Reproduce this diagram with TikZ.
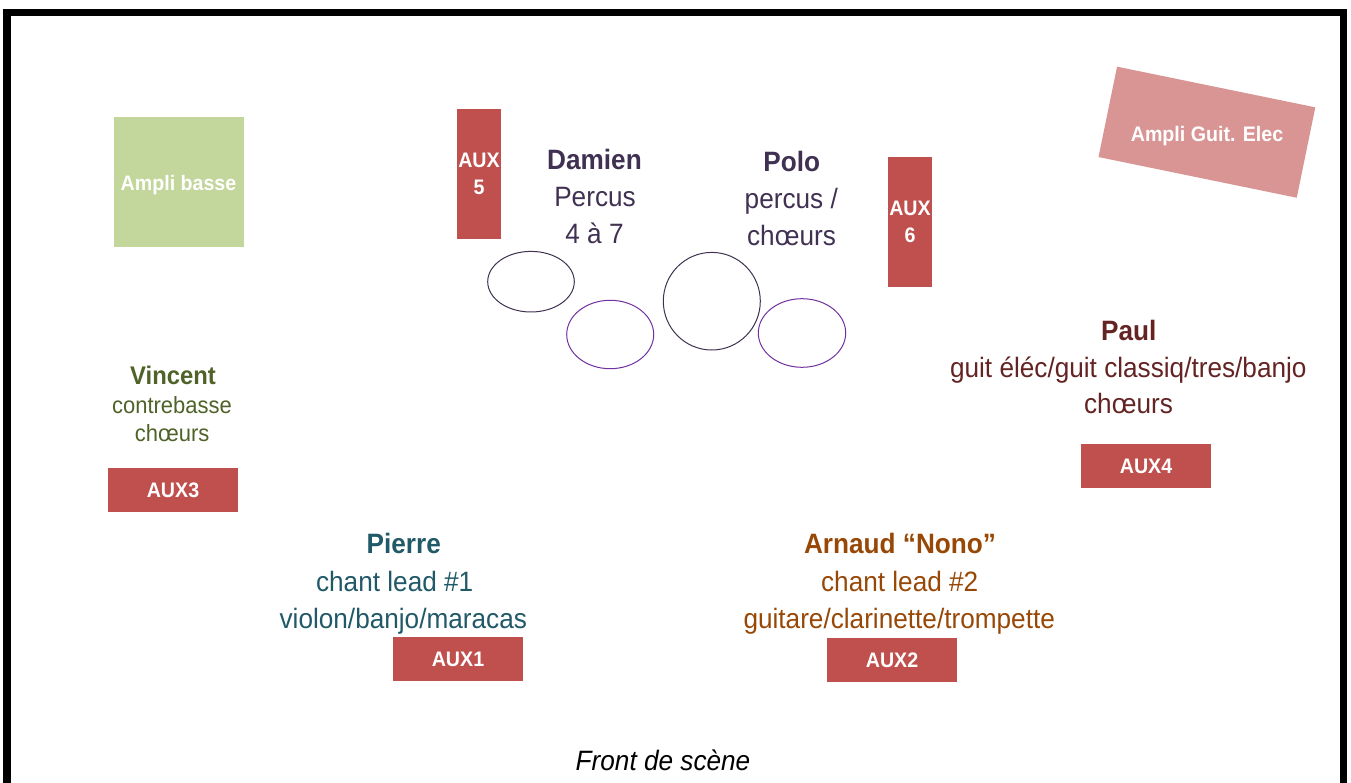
\documentclass[tikz,border=0pt]{standalone}
\usepackage{fontspec}
\setmainfont{Liberation Sans}[FakeStretch=0.935]
\definecolor{auxred}{HTML}{C0504D}
\definecolor{amplibasse}{HTML}{C3D69B}
\definecolor{ampliguit}{HTML}{D99594}
\definecolor{percdark}{HTML}{403152}
\definecolor{drumdark}{HTML}{3F3151}
\definecolor{drumpurple}{HTML}{7030A0}
\definecolor{vincentc}{HTML}{4F6228}
\definecolor{paulc}{HTML}{632423}
\definecolor{pierrec}{HTML}{215968}
\definecolor{arnaudc}{HTML}{984806}
\begin{document}
\begin{tikzpicture}[x=1pt,y=-1pt,
  auxbox/.style={fill=auxred, text=white, inner sep=0pt, align=center,
    font=\fontsize{21}{27}\selectfont\bfseries},
  ampbox/.style={inner sep=0pt},
  boxtext/.style={text=white, inner sep=0pt, anchor=base,
    font=\fontsize{21}{25}\selectfont\bfseries},
  namebig/.style={inner sep=0pt, anchor=base, font=\fontsize{28}{34}\selectfont\bfseries},
  linebig/.style={inner sep=0pt, anchor=base, font=\fontsize{28}{34}\selectfont},
  namesmall/.style={inner sep=0pt, anchor=base, font=\fontsize{25.5}{29}\selectfont\bfseries},
  linesmall/.style={inner sep=0pt, anchor=base, font=\fontsize{23.5}{29}\selectfont},
  drumA/.style={draw=drumdark, line width=1pt},
  drumB/.style={draw=drumpurple, line width=1pt}]
\useasboundingbox (0,0) rectangle (1351,783);
\clip (0,0) rectangle (1351,783);
% frame
\draw[line width=7.5pt] (7.2,12.5) rectangle (1343.5,840);
% amps
\node[ampbox, fill=amplibasse, minimum width=130pt, minimum height=130pt] (abox) at (179,182) {};
\node[boxtext] (atext) at (178.5,191) {Ampli basse};
\node[ampbox, fill=ampliguit, minimum width=202.4pt, minimum height=92.3pt, rotate=-11.6] (gbox) at (1206.9,132.2) {};
\node[boxtext] (gtext) at (1207,141.7) {Ampli Guit. Elec};
% aux boxes
\node[auxbox, minimum width=44pt, minimum height=130pt] (aux5) at (479,174) {AUX\\5};
\node[auxbox, minimum width=44pt, minimum height=130pt] (aux6) at (910,222) {AUX\\6};
\node[auxbox, minimum width=130pt, minimum height=44pt] (aux3) at (173,490) {AUX3};
\node[auxbox, minimum width=130pt, minimum height=44pt] (aux4) at (1146,466) {AUX4};
\node[auxbox, minimum width=130pt, minimum height=44pt] (aux1) at (458,659) {AUX1};
\node[auxbox, minimum width=130pt, minimum height=44pt] (aux2) at (892,660) {AUX2};
% drums
\draw[drumA] (531,281.7) ellipse [x radius=43.3, y radius=30.3];
\draw[drumB] (610.2,334.5) ellipse [x radius=43.5, y radius=34.2];
\draw[drumA] (711.8,301.2) ellipse [x radius=48.5, y radius=48.8];
\draw[drumB] (802,333) ellipse [x radius=43.7, y radius=34.3];
% Damien
\node[namebig, text=percdark] (d1) at (594.5,170) {Damien};
\node[linebig, text=percdark] (d2) at (595,207) {Percus};
\node[linebig, text=percdark] (d3) at (594.5,244) {4 à 7};
% Polo
\node[namebig, text=percdark] (p1) at (791.7,171.7) {Polo};
\node[linebig, text=percdark] (p2) at (791.3,208.5) {percus /};
\node[linebig, text=percdark] (p3) at (791.5,246) {chœurs};
% Vincent
\node[namesmall, text=vincentc] (v1) at (173,384.5) {Vincent};
\node[linesmall, text=vincentc] (v2) at (172,413.5) {contrebasse};
\node[linesmall, text=vincentc] (v3) at (172.2,441.5) {chœurs};
% Paul
\node[namebig, text=paulc] (pl1) at (1128.8,340.7) {Paul};
\node[linebig, text=paulc] (pl2) at (1128.3,377.3) {guit éléc/guit classiq/tres/banjo};
\node[linebig, text=paulc] (pl3) at (1128.5,413) {chœurs};
% Pierre
\node[namebig, text=pierrec] (pi1) at (403.7,553.3) {Pierre};
\node[linebig, text=pierrec] (pi2) at (394.7,591.7) {chant lead \#1};
\node[linebig, text=pierrec] (pi3) at (403.3,628.3) {violon/banjo/maracas};
% Arnaud
\node[namebig, text=arnaudc] (ar1) at (900,553.3) {Arnaud “Nono”};
\node[linebig, text=arnaudc] (ar2) at (899.7,591.7) {chant lead \#2};
\node[linebig, text=arnaudc] (ar3) at (899.2,628.3) {guitare/clarinette/trompette};
% front
\node[linebig, font=\fontsize{28}{34}\selectfont\itshape] (front) at (663,770) {Front de scène};
\end{tikzpicture}
\end{document}
